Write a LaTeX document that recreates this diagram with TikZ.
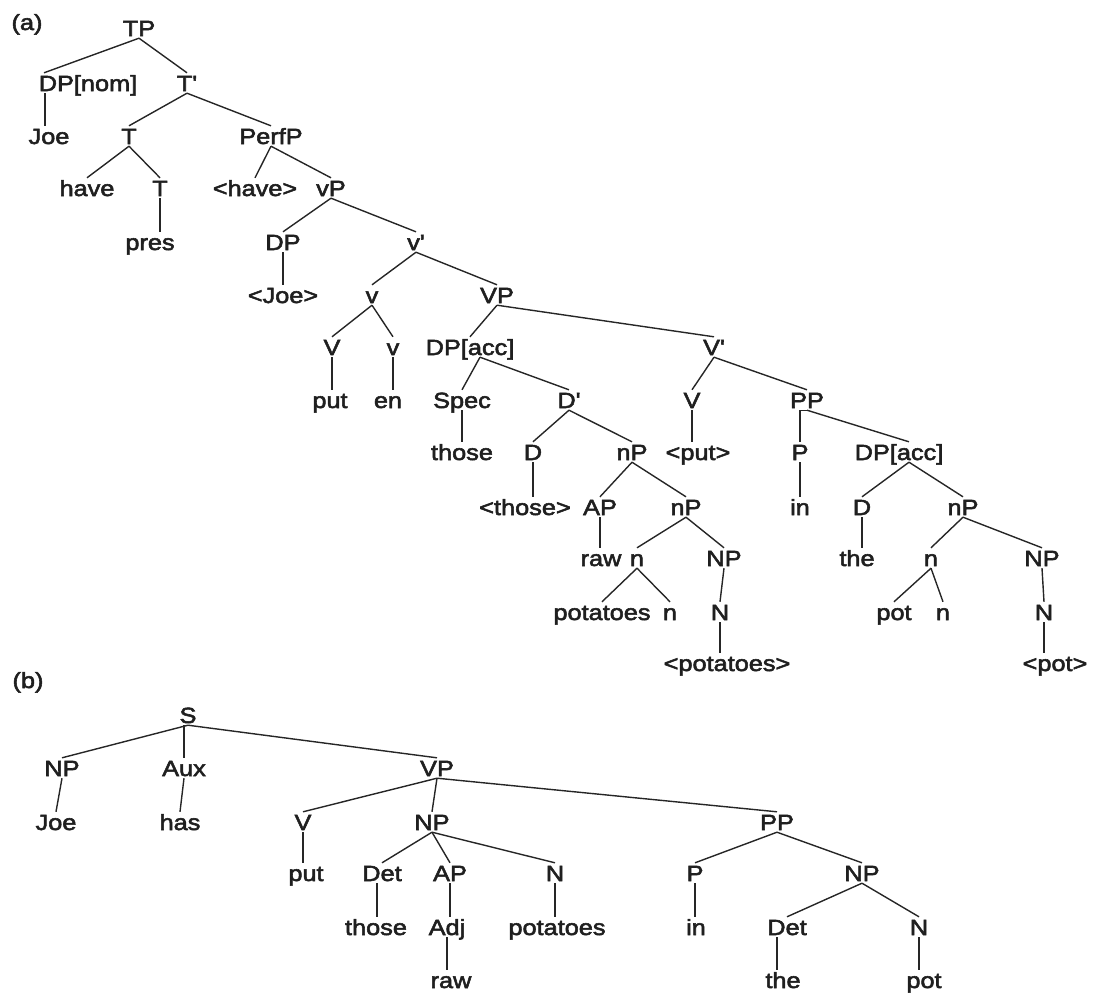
\documentclass[tikz,border=0pt]{standalone}
\usepackage{fontspec}
\setmainfont[Ligatures=TeXOff,FakeStretch=1.15,FakeBold=2.5]{Liberation Sans}
\begin{document}
\begin{tikzpicture}[x=1pt,y=-1pt,
  every node/.style={font=\fontsize{22}{24}\selectfont, inner sep=2pt,
    text height=16pt, text depth=0pt, text=black!88},
  edge/.style={line width=1.4pt, black!85}]
\useasboundingbox (0,0) rectangle (1093,994);

% ---------- (a) ----------
\node (la) at (27,22) {(a)};
\node (tp) at (139,28) {TP};
\node (dpnom) at (88,83) {DP[nom]};
\node (tbar) at (187,83) {T'};
\node (joe) at (49,136) {Joe};
\node (t1) at (129,136) {T};
\node (perfp) at (271,136) {PerfP};
\node (have) at (87,188) {have};
\node (t2) at (160,188) {T};
\node (have2) at (255,188) {<have>};
\node (vp) at (331,188) {vP};
\node (pres) at (150,242) {pres};
\node (dp) at (283,242) {DP};
\node (vbar) at (416,242) {v'};
\node (joe2) at (283,295) {<Joe>};
\node (vsm) at (372,295) {v};
\node (VP) at (497,295) {VP};
\node (V1) at (332,347) {V};
\node (v2) at (393,347) {v};
\node (dpacc) at (470,347) {DP[acc]};
\node (Vbar) at (714,347) {V'};
\node (put) at (330,400) {put};
\node (en) at (388,400) {en};
\node (spec) at (462,400) {Spec};
\node (dbar) at (569,400) {D'};
\node (V3) at (692,400) {V};
\node (pp) at (807,400) {PP};
\node (those) at (462,452) {those};
\node (d1) at (533,452) {D};
\node (np1) at (632,452) {nP};
\node (put2) at (698,452) {<put>};
\node (p) at (800,452) {P};
\node (dpacc2) at (899,452) {DP[acc]};
\node (those2) at (525,507) {<those>};
\node (ap) at (600,507) {AP};
\node (np2) at (686,507) {nP};
\node (in) at (800,507) {in};
\node (d2) at (862,507) {D};
\node (np3) at (963,507) {nP};
\node (raw) at (601,558) {raw};
\node (n1) at (637,558) {n};
\node (NP1) at (724,558) {NP};
\node (the) at (857,558) {the};
\node (n3) at (931,558) {n};
\node (NP2) at (1042,558) {NP};
\node (potatoes) at (602,612) {potatoes};
\node (n2) at (670,612) {n};
\node (N1) at (720,612) {N};
\node (pot) at (894,612) {pot};
\node (n4) at (943,612) {n};
\node (N2) at (1044,612) {N};
\node (potatoes2) at (727,663) {<potatoes>};
\node (pot2) at (1055,663) {<pot>};

\draw[edge] (tp.south) -- ([xshift=-44pt]dpnom.north);
\draw[edge] (tp.south) -- (tbar.north);
\draw[edge] ([xshift=-43pt]dpnom.south) -- ([xshift=-43pt]dpnom.south |- joe.north);
\draw[edge] (tbar.south) -- (t1.north);
\draw[edge] (tbar.south) -- (perfp.north);
\draw[edge] (t1.south) -- (have.north);
\draw[edge] (t1.south) -- (t2.north);
\draw[edge] (t2.south) -- (t2.south |- pres.north);
\draw[edge] (perfp.south) -- (have2.north);
\draw[edge] (perfp.south) -- (vp.north);
\draw[edge] (vp.south) -- (dp.north);
\draw[edge] (vp.south) -- (vbar.north);
\draw[edge] (dp.south) -- (dp.south |- joe2.north);
\draw[edge] (vbar.south) -- (vsm.north);
\draw[edge] (vbar.south) -- (VP.north);
\draw[edge] (vsm.south) -- (V1.north);
\draw[edge] (vsm.south) -- (v2.north);
\draw[edge] (V1.south) -- (V1.south |- put.north);
\draw[edge] (v2.south) -- (v2.south |- en.north);
\draw[edge] (VP.south) -- (dpacc.north);
\draw[edge] (VP.south) -- (Vbar.north);
\draw[edge] ([xshift=10pt]dpacc.south) -- (spec.north);
\draw[edge] ([xshift=10pt]dpacc.south) -- (dbar.north);
\draw[edge] (spec.south) -- (spec.south |- those.north);
\draw[edge] (dbar.south) -- (d1.north);
\draw[edge] (dbar.south) -- (np1.north);
\draw[edge] (d1.south) -- (d1.south |- those2.north);
\draw[edge] (np1.south) -- (ap.north);
\draw[edge] (np1.south) -- (np2.north);
\draw[edge] (ap.south) -- (ap.south |- raw.north);
\draw[edge] (np2.south) -- (n1.north);
\draw[edge] (np2.south) -- (NP1.north);
\draw[edge] (n1.south) -- (potatoes.north);
\draw[edge] (n1.south) -- (n2.north);
\draw[edge] (NP1.south) -- (N1.north);
\draw[edge] (N1.south) -- (N1.south |- potatoes2.north);
\draw[edge] (Vbar.south) -- (V3.north);
\draw[edge] (Vbar.south) -- (pp.north);
\draw[edge] (V3.south) -- (V3.south |- put2.north);
\draw[edge] (pp.south) -- (pp.south -| p) -- (p.north);
\draw[edge] (pp.south) -- ([xshift=10pt]dpacc2.north);
\draw[edge] (p.south) -- (p.south |- in.north);
\draw[edge] ([xshift=10pt]dpacc2.south) -- (d2.north);
\draw[edge] ([xshift=10pt]dpacc2.south) -- (np3.north);
\draw[edge] (d2.south) -- (d2.south |- the.north);
\draw[edge] (np3.south) -- (n3.north);
\draw[edge] (np3.south) -- (NP2.north);
\draw[edge] (n3.south) -- (pot.north);
\draw[edge] (n3.south) -- (n4.north);
\draw[edge] (NP2.south) -- (N2.north);
\draw[edge] (N2.south) -- (N2.south |- pot2.north);

% ---------- (b) ----------
\node (lb) at (28,680) {(b)};
\node (s) at (188,715) {S};
\node (bnp) at (62,768) {NP};
\node (aux) at (184,768) {Aux};
\node (bvp) at (437,768) {VP};
\node (bjoe) at (56,822) {Joe};
\node (has) at (180,822) {has};
\node (bv) at (303,822) {V};
\node (bnp2) at (432,822) {NP};
\node (bpp) at (777,822) {PP};
\node (bput) at (306,873) {put};
\node (det) at (382,873) {Det};
\node (bap) at (450,873) {AP};
\node (bn) at (555,873) {N};
\node (bp) at (695,873) {P};
\node (bnp3) at (862,873) {NP};
\node (bthose) at (376,927) {those};
\node (adj) at (447,927) {Adj};
\node (bpotatoes) at (557,927) {potatoes};
\node (bin) at (696,927) {in};
\node (det2) at (787,927) {Det};
\node (bn2) at (919,927) {N};
\node (braw) at (451,980) {raw};
\node (bthe) at (783,980) {the};
\node (bpot) at (924,980) {pot};

\draw[edge] (s.south) -- (bnp.north);
\draw[edge] (s.south) -- (s.south -| aux) -- (aux.north);
\draw[edge] (s.south) -- (bvp.north);
\draw[edge] (bnp.south) -- (bjoe.north);
\draw[edge] (aux.south) -- (has.north);
\draw[edge] (bvp.south) -- (bv.north);
\draw[edge] (bvp.south) -- (bnp2.north);
\draw[edge] (bvp.south) -- (bpp.north);
\draw[edge] (bv.south) -- (bv.south |- bput.north);
\draw[edge] (bnp2.south) -- (det.north);
\draw[edge] (bnp2.south) -- (bap.north);
\draw[edge] (bnp2.south) -- (bn.north);
\draw[edge] ([xshift=-5pt]det.south) -- ([xshift=-5pt]det.south |- bthose.north);
\draw[edge] (bap.south) -- (bap.south |- adj.north);
\draw[edge] (adj.south) -- (adj.south |- braw.north);
\draw[edge] (bn.south) -- (bn.south |- bpotatoes.north);
\draw[edge] (bpp.south) -- (bp.north);
\draw[edge] (bpp.south) -- (bnp3.north);
\draw[edge] (bp.south) -- (bp.south |- bin.north);
\draw[edge] (bnp3.south) -- (det2.north);
\draw[edge] (bnp3.south) -- (bn2.north);
\draw[edge] ([xshift=-10pt]det2.south) -- ([xshift=-10pt]det2.south |- bthe.north);
\draw[edge] (bn2.south) -- (bn2.south |- bpot.north);
\end{tikzpicture}
\end{document}
